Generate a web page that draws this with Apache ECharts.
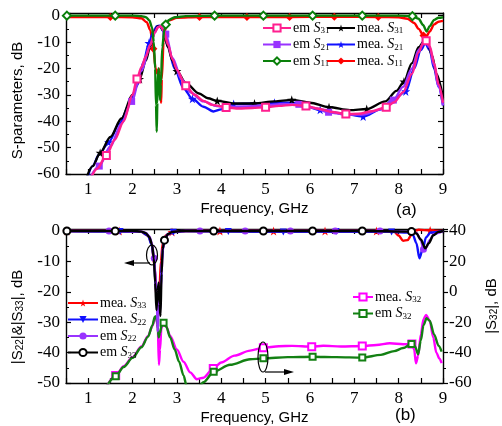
<!DOCTYPE html>
<html>
<head>
<meta charset="utf-8">
<script src="https://cdn.jsdelivr.net/npm/echarts@6/dist/echarts.min.js"></script>
<style>
html, body { margin: 0; padding: 0; background: #fff; }
#chart { width: 502px; height: 426px; }
</style>
</head>
<body>
<div id="chart"></div>
<script>
// ---- panel (a): S-parameters, dB vs Frequency, GHz ----
const emS31 = [[1.05,-62],[1.2,-58],[1.41,-53],[1.6,-47],[1.8,-40],[2.0,-30],[2.1,-24],[2.2,-19.5],[2.3,-15.5],[2.4,-11],[2.5,-6.5],[2.57,-4.5],[2.63,-4],[2.7,-5.5],[2.8,-11],[2.9,-16.5],[3.0,-20.5],[3.2,-26.6],[3.4,-30],[3.6,-32.3],[3.8,-33.8],[4.11,-34.8],[4.4,-35.2],[4.7,-35],[5.0,-34.7],[5.3,-34.2],[5.6,-33.8],[5.91,-34.2],[6.2,-35.3],[6.5,-36.5],[6.81,-37.3],[7.1,-37.2],[7.4,-36.2],[7.72,-34.7],[7.9,-32.8],[8.1,-29],[8.3,-22],[8.45,-14],[8.55,-10.5],[8.62,-9.5],[8.7,-11.5],[8.8,-18],[8.9,-26],[9.0,-33]];
const emS31Marks = [1.41, 2.1, 3.2, 4.11, 5.0, 5.91, 6.81, 7.72, 8.62];

const meaS31 = [[0.95,-62],[1.1,-57],[1.27,-52],[1.5,-46],[1.75,-39],[2.0,-30],[2.16,-24],[2.3,-17],[2.4,-11.5],[2.5,-6],[2.57,-4],[2.63,-4],[2.7,-6],[2.8,-12],[2.9,-17],[3.0,-21],[3.2,-25.5],[3.5,-29.5],[3.7,-31.3],[3.91,-32.3],[4.3,-33.3],[4.75,-33.3],[5.2,-32.5],[5.59,-31.9],[6.0,-33],[6.43,-34.7],[6.9,-35.8],[7.28,-35.4],[7.7,-32.5],[7.95,-28.5],[8.12,-25],[8.3,-18],[8.45,-12],[8.58,-9.5],[8.65,-10],[8.75,-15],[8.85,-22],[9.0,-31]];
const meaS31Marks = [1.27, 2.16, 3.0, 3.91, 4.75, 5.59, 6.43, 7.28, 8.12];

const emS21 = [[1.02,-62],[1.25,-57],[1.5,-49.5],[1.75,-41],[1.98,-32.5],[2.2,-21],[2.4,-11],[2.5,-6.5],[2.57,-4.3],[2.63,-4],[2.75,-7],[2.9,-16],[3.1,-24],[3.3,-29],[3.6,-32.5],[3.9,-34.3],[4.3,-34.6],[4.7,-34.3],[5.0,-34],[5.4,-33.5],[5.75,-33.6],[6.1,-35],[6.42,-36.6],[6.8,-37.5],[7.2,-37.5],[7.6,-35.5],[7.88,-32],[8.1,-27],[8.3,-20],[8.45,-13],[8.6,-9.5],[8.7,-12],[8.8,-19],[8.9,-27],[9.0,-34]];
const emS21Marks = [1.25, 1.98, 2.75, 5.75, 6.42, 7.88, 8.6];

const meaS21 = [[0.97,-62],[1.1,-57],[1.25,-52.5],[1.46,-48],[1.7,-41],[1.95,-33],[2.1,-26.5],[2.25,-17.5],[2.37,-10.4],[2.47,-6],[2.55,-4],[2.61,-3.8],[2.7,-6],[2.8,-12],[2.95,-20],[3.15,-27.5],[3.35,-31.5],[3.6,-34.5],[3.82,-36.3],[4.0,-35.5],[4.28,-33.5],[4.7,-33.3],[5.2,-33],[5.6,-33],[5.9,-34.3],[6.23,-35.7],[6.7,-37],[7.2,-38.2],[7.6,-35.5],[7.9,-31.5],[8.16,-28.7],[8.35,-20],[8.5,-13],[8.6,-10.5],[8.7,-13],[8.8,-20],[8.9,-27],[9.0,-34]];
const meaS21Marks = [1.46, 2.37, 3.35, 4.28, 5.2, 6.23, 7.2, 8.16];

const emS11 = [[0.5,0],[0.52,0],[1.0,0],[1.61,0],[2.0,0],[2.2,-0.2],[2.3,-0.6],[2.38,-1.8],[2.44,-4.5],[2.48,-10],[2.51,-20],[2.53,-34],[2.545,-44],[2.56,-33],[2.58,-20],[2.6,-22],[2.62,-32],[2.64,-26],[2.67,-12],[2.72,-5],[2.75,-3.4],[2.82,-1.6],[2.95,-0.6],[3.2,-0.2],[3.85,0],[4.95,0],[6.06,0],[7.18,0],[8.0,0],[8.31,-0.2],[8.45,-1.2],[8.55,-3.5],[8.63,-6],[8.7,-4],[8.8,-1.6],[8.9,-0.8],[9.0,-0.6]];
const emS11Marks = [0.52, 1.61, 2.75, 3.85, 4.95, 6.06, 7.18, 8.31];

const meaS11 = [[0.5,-0.5],[1.5,-0.5],[2.0,-0.6],[2.2,-1],[2.32,-2.5],[2.4,-5.5],[2.47,-12.5],[2.52,-20],[2.56,-22],[2.6,-20],[2.63,-30],[2.645,-33],[2.66,-24],[2.7,-10],[2.75,-4],[2.82,-1.8],[3.0,-0.8],[3.51,-0.5],[4.58,-0.5],[5.54,-0.5],[6.55,-0.4],[7.54,-0.5],[8.0,-0.6],[8.2,-1.2],[8.35,-2.8],[8.45,-5],[8.56,-7.5],[8.62,-8],[8.7,-6],[8.8,-3.3],[8.9,-2.3],[9.0,-2]];
const meaS11Marks = [1.5, 2.47, 3.51, 4.58, 5.54, 6.55, 7.54, 8.56];

// ---- panel (b): |S22|&|S33| (left) and |S32| (right) ----
const meaS33 = [[0.5,0],[0.52,0],[1.7,0],[2.2,-0.3],[2.35,-1.5],[2.43,-4],[2.5,-12],[2.55,-24],[2.58,-27],[2.61,-18],[2.64,-10],[2.68,-4],[2.75,-1.5],[2.89,-0.3],[3.2,0],[3.97,0],[5.18,0],[6.34,0],[7.5,0],[7.9,-0.3],[8.0,-1.5],[8.1,-3.2],[8.2,-3],[8.28,-1.5],[8.36,0],[8.45,0.4],[8.71,0.2],[9.0,0]];
const meaS33Marks = [0.52, 1.7, 2.89, 3.97, 5.18, 6.34, 7.5, 8.71];

const meaS22 = [[0.5,0],[1.72,-0.2],[2.2,-0.3],[2.35,-1.5],[2.43,-4.5],[2.49,-10],[2.53,-20],[2.56,-25],[2.6,-22],[2.63,-20],[2.66,-10],[2.7,-4],[2.78,-1.2],[2.92,-0.4],[3.2,0],[4.16,-0.2],[5.4,-0.3],[6.59,-0.2],[7.84,-0.3],[8.2,-0.5],[8.32,-1.2],[8.4,-4],[8.47,-9],[8.54,-6],[8.62,-2],[8.72,-0.5],[9.0,0]];
const meaS22Marks = [1.72, 2.92, 4.16, 5.4, 6.59, 7.84];

const emS22 = [[0.5,0],[1.47,0],[2.2,-0.2],[2.3,-0.6],[2.38,-1.8],[2.44,-4.2],[2.49,-9],[2.52,-17],[2.55,-25],[2.57,-33],[2.59,-22],[2.62,-27],[2.65,-15],[2.68,-6],[2.73,-2.8],[2.8,-1],[2.9,-0.3],[3.1,0],[3.52,0],[4.54,0],[5.56,0],[6.57,0],[7.58,0],[8.3,-0.2],[8.4,-0.6],[8.5,-3],[8.56,-6],[8.62,-5.5],[8.7,-3],[8.8,-1],[9.0,0]];
const emS22Marks = [1.47, 2.49, 3.52, 4.54, 5.56, 6.57, 7.58, 8.56];

const emS33 = [[0.5,0],[0.52,0],[1.61,0],[2.0,0],[2.2,-0.2],[2.3,-0.7],[2.38,-2],[2.44,-4.5],[2.48,-9],[2.51,-17],[2.54,-26],[2.565,-20],[2.59,-17],[2.61,-24],[2.63,-28],[2.655,-14],[2.68,-6],[2.72,-3],[2.8,-1],[2.9,-0.3],[3.1,0],[3.83,0],[4.95,0],[6.06,0],[7.18,0],[8.29,-0.2],[8.4,-0.8],[8.5,-2.8],[8.6,-5.7],[8.68,-4],[8.78,-1.4],[8.9,-0.3],[9.0,0]];
const emS33Marks = [0.52, 1.61, 2.72, 3.83, 4.95, 6.06, 7.18, 8.29];

const meaS32 = [[1.42,-62],[1.62,-55],[1.8,-49],[2.0,-43],[2.2,-36],[2.35,-29],[2.45,-22.5],[2.51,-17],[2.54,-17.5],[2.57,-24],[2.595,-48],[2.62,-38],[2.65,-24],[2.7,-20.5],[2.76,-23],[2.85,-29],[3.0,-38],[3.15,-46],[3.3,-53],[3.45,-57.5],[3.6,-56.5],[3.82,-50.4],[4.0,-46.5],[4.3,-42],[4.65,-38.7],[4.95,-36.8],[5.3,-35.8],[5.6,-35.6],[6.04,-36.1],[6.3,-35.5],[6.7,-36],[7.18,-35.7],[7.5,-35],[7.8,-33.9],[8.1,-34.5],[8.3,-34.3],[8.35,-38],[8.39,-47],[8.44,-42],[8.5,-28],[8.56,-18],[8.62,-15.3],[8.7,-19],[8.78,-30],[8.85,-40],[8.92,-44],[8.97,-47]];
const meaS32Marks = [1.62, 3.82, 4.95, 6.04, 7.18, 8.3];

const emS32 = [[1.42,-62],[1.62,-55.5],[1.8,-49.5],[2.0,-43.5],[2.2,-36.5],[2.35,-29.5],[2.45,-22],[2.5,-16.5],[2.53,-16],[2.56,-21],[2.59,-30],[2.62,-27],[2.66,-21],[2.7,-20.3],[2.76,-23],[2.85,-30],[2.95,-38],[3.05,-46],[3.15,-55],[3.22,-62],[3.5,-62],[3.6,-59.5],[3.83,-52.6],[4.2,-48],[4.65,-44.4],[4.95,-43.8],[5.5,-43],[6.06,-42.7],[6.6,-43],[7.18,-43.3],[7.6,-41.5],[7.9,-39],[8.1,-37],[8.29,-34.3],[8.37,-36],[8.44,-41],[8.5,-32],[8.56,-22],[8.63,-17.4],[8.7,-19],[8.8,-28],[8.9,-35.5],[8.97,-39.4]];
const emS32Marks = [1.62, 2.7, 3.83, 4.95, 6.06, 7.18, 8.29];

const chart = echarts.init(document.getElementById('chart'));

const STAR = 'path://M50,0L61,35L98,35L68,57L79,91L50,70L21,91L32,57L2,35L39,35Z';
const SERIF = '"Liberation Serif", "Times New Roman", serif';
const SANS = '"Liberation Sans", Arial, sans-serif';

function pts(data, marks) {
  return data.map(p => marks.indexOf(p[0]) >= 0 ? { value: p } : { value: p, symbol: 'none' });
}

function curve(name, data, marks, color, symbol, size, xi, yi, z, rot) {
  return {
    name: name, type: 'line', xAxisIndex: xi, yAxisIndex: yi,
    data: pts(data, marks), smooth: 0.3, smoothMonotone: 'x',
    symbol: symbol, symbolSize: size, symbolRotate: rot || 0, showSymbol: true, showAllSymbol: true,
    z: z, lineStyle: { color: color, width: 2.4 }, itemStyle: { color: color },
    emphasis: { disabled: true }, animation: false
  };
}

const richLegend = {
  t: { fontFamily: SERIF, fontSize: 14, lineHeight: 15, color: '#000' },
  i: { fontFamily: SERIF, fontSize: 14, fontStyle: 'italic', lineHeight: 15, color: '#000' },
  sub: { fontFamily: SERIF, fontSize: 9, lineHeight: 9, verticalAlign: 'bottom', color: '#000' }
};
function legendText(name) {
  const parts = name.split(' S');
  return '{t|' + parts[0] + ' }{i|S}{sub|' + parts[1] + '}';
}
function legendBox(names, left, top, w) {
  return {
    data: names, left: left, top: top, orient: 'vertical', itemWidth: w || 28, itemHeight: 9,
    itemGap: 2, padding: 0, formatter: legendText, selectedMode: false,
    textStyle: { rich: richLegend, padding: [0, 0, 0, -3] }
  };
}

function xAx(gi, pos, labels, name) {
  return {
    type: 'value', gridIndex: gi, position: pos, min: 0.5, max: 9, interval: 0.5,
    name: name || '', nameLocation: 'middle', nameGap: 27,
    nameTextStyle: { fontFamily: SANS, fontSize: 15, color: '#000' },
    axisLine: { show: true, onZero: false, lineStyle: { color: '#000', width: 1.4 } },
    axisTick: { show: true, inside: true, length: 5, lineStyle: { color: '#000', width: 1.2 } },
    axisLabel: { show: labels, margin: 7, fontFamily: SERIF, fontSize: 17, color: '#000',
      formatter: v => Math.abs(v - Math.round(v)) < 1e-6 ? String(Math.round(v)) : '' },
    splitLine: { show: false }
  };
}
function yAx(gi, pos, min, max, step, labels, inside, name, pad) {
  return {
    type: 'value', gridIndex: gi, position: pos, min: min, max: max, interval: step,
    name: name || '', nameLocation: 'middle', nameGap: 41, nameRotate: 90,
    nameTextStyle: { fontFamily: SANS, fontSize: 15, color: '#000', padding: pad || 0,
      rich: { sub: { fontFamily: SANS, fontSize: 10, lineHeight: 10, verticalAlign: 'bottom', color: '#000' } } },
    axisLine: { show: true, onZero: false, lineStyle: { color: '#000', width: 1.4 } },
    axisTick: { show: true, inside: inside, length: 5, lineStyle: { color: '#000', width: 1.2 } },
    minorTick: { show: true, splitNumber: 2, length: 3, lineStyle: { color: '#000', width: 1 } },
    axisLabel: { show: labels, margin: 6, fontFamily: SERIF, fontSize: 17, color: '#000',
      formatter: v => (Math.abs(v - Math.round(v)) < 1e-6 && Math.round(v) % 10 === 0) ? String(Math.round(v)) : '' },
    splitLine: { show: false }, minorSplitLine: { show: false }
  };
}

const option = {
  backgroundColor: '#fff',
  animation: false,
  grid: [
    { left: 66, right: 59, top: 13, height: 161, outerBoundsMode: 'none' },
    { left: 66, right: 59, top: 229, height: 154, outerBoundsMode: 'none' }
  ],
  xAxis: [
    xAx(0, 'bottom', true, 'Frequency, GHz'),
    xAx(0, 'top', false),
    xAx(1, 'bottom', true, 'Frequency, GHz'),
    xAx(1, 'top', false)
  ],
  yAxis: [
    yAx(0, 'left', -60, 1, 10, true, true, 'S-parameters, dB', [0, 14, 0, 0]),
    yAx(0, 'right', -60, 1, 10, false, true),
    yAx(1, 'left', -50, 0.66, 10, true, true, '|S{sub|22}|&|S{sub|33}|, dB', [0, 22, 0, 0]),
    yAx(1, 'right', -60, 41.3, 20, true, false, '|S{sub|32}|, dB')
  ],
  legend: [
    legendBox(['em S31', 'em S21', 'em S11'], 262, 21),
    legendBox(['mea. S31', 'mea. S21', 'mea. S11'], 326, 21),
    legendBox(['mea. S33', 'mea. S22', 'em S22', 'em S33'], 67, 296, 30),
    legendBox(['mea. S32', 'em S32'], 352, 290, 20)
  ],
  series: [
    curve('mea. S11', meaS11, meaS11Marks, '#ff0000', 'diamond', 8, 0, 0, 2),
    curve('mea. S21', meaS21, meaS21Marks, '#1010ff', STAR, 9, 0, 0, 3),
    curve('mea. S31', meaS31, meaS31Marks, '#000000', STAR, 9, 0, 0, 4),
    curve('em S21', emS21, emS21Marks, '#9933ff', 'rect', 7, 0, 0, 5),
    curve('em S31', emS31, emS31Marks, '#ff1f8f', 'emptyRect', 7, 0, 0, 6),
    curve('em S11', emS11, emS11Marks, '#0a800a', 'emptyDiamond', 8, 0, 0, 7),

    curve('mea. S32', meaS32, meaS32Marks, '#ff00ff', 'emptyRect', 7, 2, 3, 2),
    curve('em S32', emS32, emS32Marks, '#138013', 'emptyRect', 6, 2, 3, 3),
    curve('mea. S33', meaS33, meaS33Marks, '#ff0000', STAR, 9, 2, 2, 4),
    curve('mea. S22', meaS22, meaS22Marks, '#1010ff', 'triangle', 7, 2, 2, 5, 180),
    curve('em S22', emS22, emS22Marks, '#9933ff', 'circle', 7, 2, 2, 6),
    curve('em S33', emS33, emS33Marks, '#000000', 'emptyCircle', 7, 2, 2, 7)
  ],
  graphic: [
    { type: 'text', left: 396, top: 202, style: { text: '(a)', font: '17px ' + SANS, fill: '#000' } },
    { type: 'text', left: 395, top: 407, style: { text: '(b)', font: '17px ' + SANS, fill: '#000' } },
    { type: 'ellipse', shape: { cx: 152, cy: 255, rx: 5.5, ry: 10 }, style: { fill: 'none', stroke: '#000', lineWidth: 1.2 }, z: 20 },
    { type: 'line', shape: { x1: 150, y1: 263, x2: 130, y2: 263 }, style: { stroke: '#000', lineWidth: 1.2 }, z: 20 },
    { type: 'polygon', shape: { points: [[124, 263], [134, 260], [134, 266]] }, style: { fill: '#000' }, z: 20 },
    { type: 'ellipse', shape: { cx: 263, cy: 357, rx: 5, ry: 15 }, style: { fill: 'none', stroke: '#000', lineWidth: 1.2 }, z: 20 },
    { type: 'line', shape: { x1: 265, y1: 372, x2: 288, y2: 372 }, style: { stroke: '#000', lineWidth: 1.2 }, z: 20 },
    { type: 'polygon', shape: { points: [[294, 372], [284, 369], [284, 375]] }, style: { fill: '#000' }, z: 20 }
  ]
};

chart.setOption(option);
window.addEventListener('resize', () => chart.resize());
</script>
</body>
</html>
